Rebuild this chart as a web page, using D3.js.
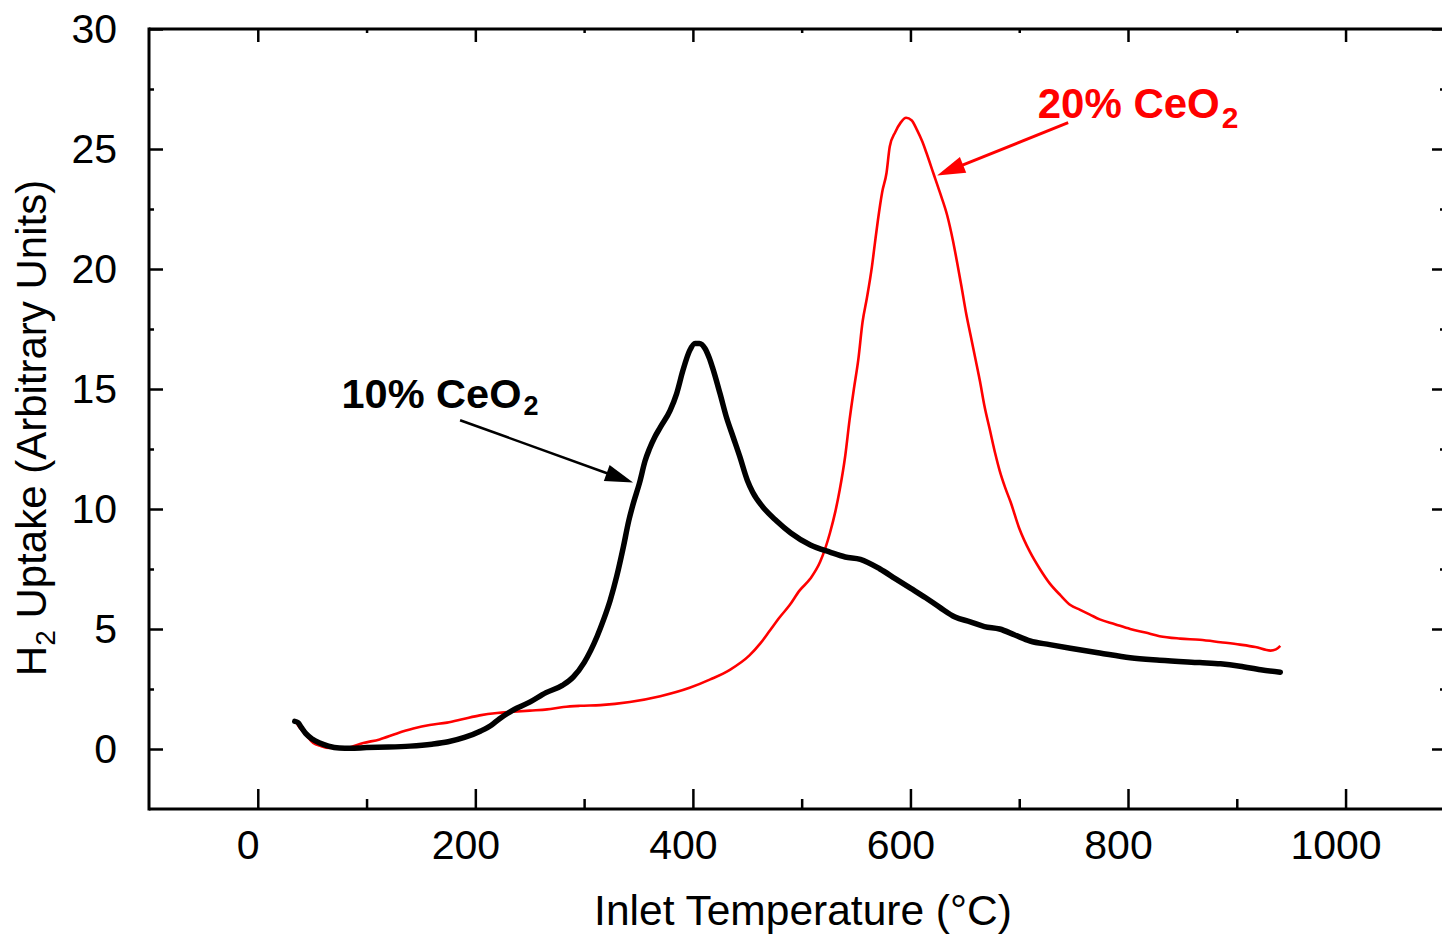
<!DOCTYPE html>
<html>
<head>
<meta charset="utf-8">
<script src="https://cdn.jsdelivr.net/npm/d3@7"></script>
<style>
  html, body { margin: 0; padding: 0; background: #fff; }
  svg { display: block; }
  text { font-family: "Liberation Sans", Arial, sans-serif; }
</style>
</head>
<body>
<svg id="chart" width="1442" height="934"></svg>
<script>
// ---- Data ----
const xMajorTicks = [0, 200, 400, 600, 800, 1000];
const xMinorTicks = [100, 300, 500, 700, 900];
const yMajorTicks = [0, 5, 10, 15, 20, 25, 30];
const yMinorTicks = [2.5, 7.5, 12.5, 17.5, 22.5, 27.5];

// 10% CeO2 (black): [inlet temperature °C, H2 uptake]
const ceo2_10 = [
  [34,1.15],[37,1.1],[40,0.9],[44,0.65],[50,0.42],[57,0.25],[65,0.12],[75,0.04],[85,0.03],
  [100,0.06],[120,0.08],[140,0.12],[160,0.2],[175,0.3],[190,0.48],[205,0.75],[215,1.0],
  [222,1.25],[232,1.55],[250,1.95],[265,2.35],[280,2.65],[290,3.0],[300,3.6],[306,4.1],
  [312,4.7],[318,5.4],[324,6.2],[330,7.2],[336,8.4],[341,9.5],[345,10.2],[351,11.1],
  [356,12.0],[360,12.5],[365,13.0],[370,13.4],[379,14.1],[385,14.8],[391,15.8],[397,16.6],
  [402,16.9],[406,16.9],[411,16.7],[415,16.3],[418,15.9],[425,14.8],[431,13.8],[437,13.0],
  [443,12.2],[450,11.2],[455,10.7],[464,10.1],[477,9.5],[490,9.0],[508,8.5],[526,8.2],
  [540,8.0],[554,7.9],[572,7.5],[586,7.1],[600,6.7],[614,6.3],[627,5.9],[641,5.5],
  [655,5.3],[668,5.1],[682,5.0],[696,4.75],[710,4.5],[728,4.35],[747,4.2],[774,4.0],
  [802,3.8],[829,3.7],[866,3.6],[885,3.55],[903,3.45],[922,3.3],[940,3.2]
];

// 20% CeO2 (red)
const ceo2_20 = [
  [36,1.05],[40,0.8],[45,0.55],[51,0.25],[58,0.12],[66,0.04],[82,0.05],[97,0.25],[112,0.4],
  [128,0.65],[143,0.85],[158,1.0],[174,1.1],[189,1.25],[204,1.4],[220,1.5],[235,1.55],
  [250,1.6],[266,1.65],[281,1.75],[296,1.8],[315,1.83],[342,1.96],[370,2.2],[397,2.55],
  [416,2.9],[434,3.3],[452,3.9],[462,4.4],[471,4.95],[480,5.5],[489,6.0],[498,6.6],
  [508,7.1],[517,7.8],[526,9.0],[531,9.9],[535,10.8],[540,12.2],[544,13.7],[548,15.0],
  [552,16.2],[556,17.8],[560,18.8],[564.6,20.1],[567.4,21.1],[570,22.0],[574,23.2],
  [578,24.0],[581,25.1],[586,25.7],[591,26.1],[596,26.3],[601,26.2],[606,25.8],[611,25.3],
  [615,24.8],[621,24.0],[627,23.2],[634,22.2],[639,21.2],[643,20.25],[647,19.25],
  [651,18.2],[655,17.3],[660,16.2],[664,15.3],[668,14.3],[673,13.3],[678,12.3],[682,11.6],
  [687,10.9],[692,10.3],[700,9.2],[710,8.2],[719,7.5],[728,6.9],[738,6.4],[747,6.0],
  [756,5.8],[765,5.6],[774,5.4],[788,5.2],[802,5.0],[816,4.85],[829,4.7],[848,4.6],
  [866,4.55],[885,4.45],[903,4.35],[917,4.25],[931,4.1],[936,4.15],[940,4.3]
];

// annotation anchors in data units: [x, y]
const label10 = { text: "10% CeO", sub: "2", at: [77, 14.2], arrowFrom: [186, 13.7], arrowTo: [345, 11.1] };
const label20 = { text: "20% CeO", sub: "2", at: [717, 26.3], arrowFrom: [745, 26.1], arrowTo: [624.5, 23.9] };

const xTitle = "Inlet Temperature (°C)";

// ---- Layout ----
const svg = d3.select("#chart");
const mLeft = 149, mRight = 1444, mTop = 29, mBottom = 809;

const x = d3.scaleLinear().domain([-100, 1090.5]).range([mLeft, mRight]);
const y = d3.scaleLinear().domain([-2.5, 30]).range([mBottom, mTop]);

// frame
const frame = svg.append("g").attr("stroke", "#000").attr("stroke-width", 3).attr("fill", "none");
frame.append("line").attr("x1", mLeft).attr("x2", mLeft).attr("y1", mTop - 1.5).attr("y2", mBottom + 1.5);
frame.append("line").attr("x1", mLeft).attr("x2", mRight).attr("y1", mTop).attr("y2", mTop);
frame.append("line").attr("x1", mLeft).attr("x2", mRight).attr("y1", mBottom).attr("y2", mBottom);
frame.append("line").attr("x1", mRight).attr("x2", mRight).attr("y1", mTop).attr("y2", mBottom);

function styleAxis(g) {
  g.select(".domain").remove();
  g.selectAll(".tick line").attr("stroke", "#000").attr("stroke-width", 2.5);
}
// bottom major
svg.append("g").attr("transform", `translate(0,${mBottom})`)
  .call(d3.axisBottom(x).tickValues(xMajorTicks).tickSize(-20).tickPadding(30).tickFormat(d3.format("d")))
  .call(styleAxis)
  .call(g => g.selectAll(".tick text")
      .attr("font-size", 41).attr("fill", "#000").attr("font-family", "Liberation Sans, Arial, sans-serif")
      .attr("dx", -10).attr("dy", "0.71em").attr("y", 21));
// bottom minor
svg.append("g").attr("transform", `translate(0,${mBottom})`)
  .call(d3.axisBottom(x).tickValues(xMinorTicks).tickSize(-10).tickFormat(""))
  .call(styleAxis);
// top major / minor
svg.append("g").attr("transform", `translate(0,${mTop})`)
  .call(d3.axisTop(x).tickValues(xMajorTicks).tickSize(-13).tickFormat(""))
  .call(styleAxis);
svg.append("g").attr("transform", `translate(0,${mTop})`)
  .call(d3.axisTop(x).tickValues(xMinorTicks).tickSize(-4).tickFormat(""))
  .call(styleAxis);
// left major
svg.append("g").attr("transform", `translate(${mLeft},0)`)
  .call(d3.axisLeft(y).tickValues(yMajorTicks).tickSize(-14).tickPadding(32).tickFormat(d3.format("d")))
  .call(styleAxis)
  .call(g => g.selectAll(".tick text")
      .attr("font-size", 41).attr("fill", "#000").attr("font-family", "Liberation Sans, Arial, sans-serif"));
svg.append("g").attr("transform", `translate(${mLeft},0)`)
  .call(d3.axisLeft(y).tickValues(yMinorTicks).tickSize(-5).tickFormat(""))
  .call(styleAxis);
// right major / minor
svg.append("g").attr("transform", `translate(${mRight},0)`)
  .call(d3.axisRight(y).tickValues(yMajorTicks).tickSize(-12).tickFormat(""))
  .call(styleAxis);
svg.append("g").attr("transform", `translate(${mRight},0)`)
  .call(d3.axisRight(y).tickValues(yMinorTicks).tickSize(-4).tickFormat(""))
  .call(styleAxis);

// ---- Curves ----
const line = d3.line().x(d => x(d[0])).y(d => y(d[1])).curve(d3.curveMonotoneX);
svg.append("path").datum(ceo2_20).attr("d", line)
  .attr("fill", "none").attr("stroke", "#ff0000").attr("stroke-width", 2.6).attr("stroke-linejoin", "round");
svg.append("path").datum(ceo2_10).attr("d", line)
  .attr("fill", "none").attr("stroke", "#000").attr("stroke-width", 5.5).attr("stroke-linejoin", "round").attr("stroke-linecap", "round");

// ---- Annotations ----
function arrow(from, to, color, width) {
  const x1 = x(from[0]), y1 = y(from[1]), x2 = x(to[0]), y2 = y(to[1]);
  const ang = Math.atan2(y2 - y1, x2 - x1);
  const len = 28, half = 8.5;
  const bx = x2 - len * Math.cos(ang), by = y2 - len * Math.sin(ang);
  svg.append("line").attr("x1", x1).attr("y1", y1).attr("x2", bx + 4 * Math.cos(ang)).attr("y2", by + 4 * Math.sin(ang))
    .attr("stroke", color).attr("stroke-width", width);
  const p = [
    [x2, y2],
    [bx + half * Math.sin(ang), by - half * Math.cos(ang)],
    [bx - half * Math.sin(ang), by + half * Math.cos(ang)]
  ];
  svg.append("path").attr("d", "M" + p.map(q => q.join(",")).join("L") + "Z").attr("fill", color);
}
arrow(label10.arrowFrom, label10.arrowTo, "#000", 2.5);
arrow(label20.arrowFrom, label20.arrowTo, "#ff0000", 3);

function chemLabel(l, color, size, subSize, subDy) {
  const t = svg.append("text").attr("x", x(l.at[0])).attr("y", y(l.at[1]))
    .attr("font-size", size).attr("font-weight", "bold").attr("fill", color);
  t.append("tspan").text(l.text);
  t.append("tspan").attr("font-size", subSize).attr("dy", subDy).attr("dx", 2).text(l.sub);
}
chemLabel(label10, "#000", 41.5, 27, 7);
chemLabel(label20, "#ff0000", 42, 30, 10);

// ---- Axis titles ----
svg.append("text").attr("x", 803).attr("y", 925).attr("text-anchor", "middle")
  .attr("font-size", 42.5).attr("fill", "#000").text(xTitle);

const yt = svg.append("text").attr("transform", "translate(46,428) rotate(-90)")
  .attr("text-anchor", "middle").attr("font-size", 42).attr("fill", "#000");
yt.append("tspan").text("H");
yt.append("tspan").attr("font-size", 28).attr("dy", 9).text("2");
yt.append("tspan").attr("dy", -9).text(" Uptake (Arbitrary Units)");
</script>
</body>
</html>
